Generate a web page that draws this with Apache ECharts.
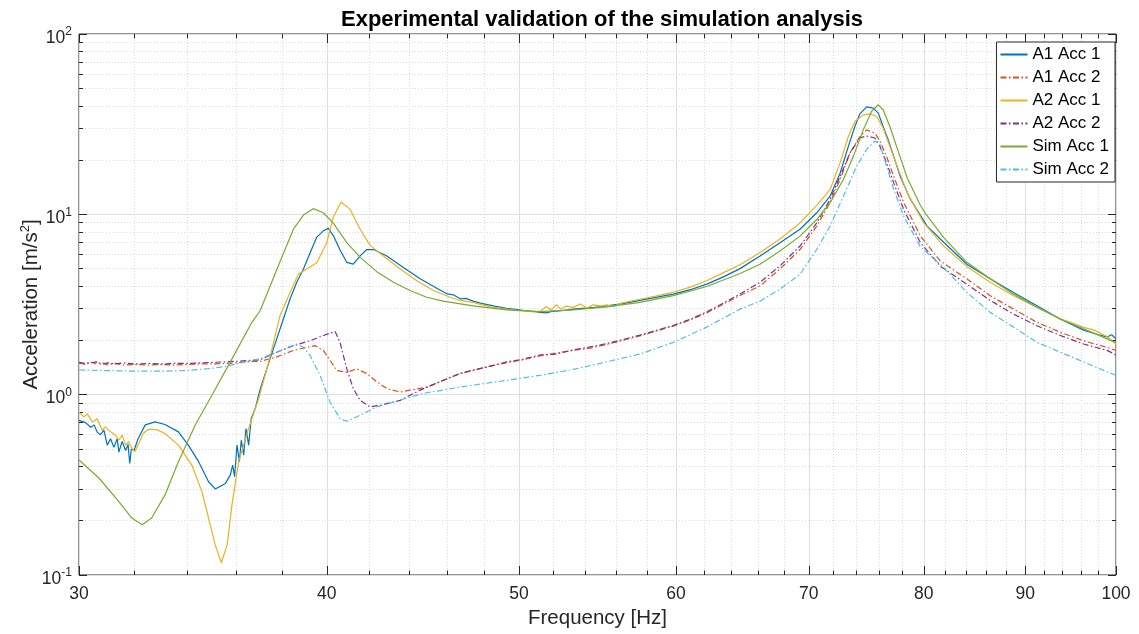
<!DOCTYPE html>
<html><head><meta charset="utf-8">
<script src="https://cdn.jsdelivr.net/npm/echarts@6/dist/echarts.min.js"></script>
<style>html,body{margin:0;padding:0;background:#fff}#c{width:1139px;height:634px}</style>
</head><body><div id="c"></div>
<script>
// ---------- data (frequency [Hz], acceleration [m/s^2]) ----------
const seriesNames = ['A1 Acc 1','A1 Acc 2','A2 Acc 1','A2 Acc 2','Sim Acc 1','Sim Acc 2'];

const a1Acc1 = [[30.00,0.72],[30.23,0.70],[30.41,0.66],[30.53,0.68],[30.64,0.62],[30.76,0.60],[30.88,0.635],[31.00,0.525],[31.12,0.57],[31.24,0.51],[31.36,0.57],[31.42,0.48],[31.54,0.55],[31.67,0.49],[31.76,0.53],[31.82,0.415],[31.88,0.50],[31.98,0.49],[32.13,0.57],[32.40,0.68],[32.77,0.706],[33.15,0.683],[33.67,0.622],[34.06,0.525],[34.47,0.425],[34.87,0.329],[35.14,0.30],[35.56,0.322],[35.76,0.358],[35.86,0.407],[35.94,0.351],[36.04,0.525],[36.14,0.425],[36.22,0.559],[36.32,0.462],[36.42,0.649],[36.53,0.525],[36.64,0.737],[36.81,0.837],[37.03,1.08],[37.45,1.58],[37.89,2.32],[38.33,3.39],[38.63,4.20],[38.93,4.98],[39.23,6.10],[39.54,7.48],[39.84,8.10],[40.07,8.36],[40.31,7.60],[40.62,6.34],[40.94,5.42],[41.25,5.30],[41.58,5.88],[41.90,6.38],[42.23,6.38],[42.89,5.88],[43.72,5.07],[44.58,4.39],[45.45,3.89],[46.0,3.62],[46.33,3.58],[46.7,3.40],[47.0,3.42],[47.41,3.30],[47.8,3.22],[48.2,3.16],[48.6,3.10],[49.28,3.01],[49.8,2.97],[50.3,2.93],[50.8,2.90],[51.23,2.86],[51.6,2.84],[52.0,2.90],[52.5,2.92],[53.25,2.98],[54.0,3.02],[54.6,3.05],[55.36,3.11],[56.4,3.20],[57.54,3.33],[58.6,3.46],[59.81,3.61],[61.0,3.82],[62.18,4.10],[63.4,4.50],[64.63,5.00],[66.15,5.88],[67.70,6.96],[69.29,8.27],[70.65,10.2],[71.75,12.6],[72.59,16.9],[73.29,23.8],[73.85,30.7],[74.28,36.1],[74.86,39.4],[75.44,38.8],[75.88,36.4],[76.31,30.7],[76.76,25.9],[77.26,20.9],[77.86,16.1],[78.77,12.1],[80.31,8.6],[81.87,7.0],[84.10,5.29],[86.41,4.39],[88.78,3.69],[91.23,3.11],[93.73,2.63],[96.30,2.28],[98.0,2.15],[98.96,2.09],[99.5,2.15],[100,2.04]];

const a1Acc2 = [[30.0,1.50],[30.2,1.47],[30.4,1.52],[30.6,1.48],[30.8,1.51],[31.0,1.46],[31.3,1.49],[31.6,1.46],[32.0,1.47],[32.5,1.46],[33.0,1.47],[33.5,1.46],[34.0,1.47],[34.5,1.48],[35.0,1.48],[35.5,1.49],[36.0,1.50],[36.67,1.53],[37.02,1.53],[37.74,1.62],[38.48,1.76],[39.08,1.83],[39.46,1.87],[39.84,1.76],[40.15,1.55],[40.47,1.36],[40.94,1.33],[41.42,1.39],[41.90,1.31],[42.39,1.18],[42.89,1.08],[43.56,1.035],[44.06,1.06],[44.92,1.10],[45.79,1.20],[46.69,1.31],[47.41,1.36],[48.3,1.44],[49.28,1.50],[50.2,1.56],[51.23,1.64],[52.2,1.70],[53.25,1.76],[54.3,1.81],[55.36,1.90],[56.4,2.00],[57.54,2.12],[58.7,2.26],[59.81,2.40],[61.0,2.60],[62.18,2.84],[63.4,3.18],[64.63,3.55],[66.15,4.01],[67.70,4.98],[69.29,6.38],[70.65,8.6],[71.75,11.6],[72.59,15.6],[73.43,21.9],[74.28,27.0],[74.86,29.4],[75.59,28.2],[76.03,25.5],[76.62,20.9],[77.26,16.2],[78.16,11.6],[79.69,7.57],[81.56,5.50],[84.10,4.39],[86.41,3.54],[88.78,2.98],[91.23,2.52],[93.73,2.22],[96.30,1.99],[98.96,1.83],[100,1.76]];

const a2Acc1 = [[30.00,0.80],[30.17,0.753],[30.29,0.782],[30.47,0.706],[30.64,0.735],[30.82,0.635],[30.94,0.663],[31.12,0.622],[31.30,0.596],[31.42,0.559],[31.54,0.596],[31.67,0.525],[31.78,0.548],[31.90,0.503],[32.00,0.482],[32.13,0.525],[32.32,0.609],[32.52,0.643],[32.84,0.64],[33.15,0.609],[33.67,0.525],[34.20,0.407],[34.60,0.29],[34.87,0.207],[35.14,0.147],[35.39,0.117],[35.63,0.147],[35.83,0.245],[36.11,0.425],[36.53,0.65],[36.96,0.95],[37.45,1.62],[37.89,2.75],[38.33,3.69],[38.70,4.66],[39.08,4.98],[39.54,5.39],[40.00,6.96],[40.31,9.7],[40.67,11.7],[41.10,10.65],[41.58,8.27],[42.06,6.73],[42.72,5.88],[43.56,4.98],[44.41,4.28],[45.27,3.78],[46.15,3.47],[46.69,3.33],[47.41,3.25],[48.3,3.08],[49.28,2.98],[50.0,2.93],[50.5,2.90],[51.0,2.88],[51.3,2.92],[51.6,3.08],[51.9,2.95],[52.2,3.15],[52.5,2.98],[52.8,3.10],[53.25,3.05],[53.7,3.18],[54.1,3.02],[54.5,3.15],[55.0,3.10],[55.36,3.15],[55.8,3.08],[56.3,3.22],[57.54,3.38],[58.6,3.52],[59.81,3.70],[61.0,3.95],[62.18,4.28],[63.4,4.75],[64.63,5.25],[66.15,6.14],[67.70,7.3],[69.29,8.96],[70.65,11.2],[71.75,13.7],[72.59,19.3],[73.29,27.0],[73.85,32.7],[74.57,35.6],[75.15,36.1],[75.74,34.9],[76.31,30.1],[76.91,23.8],[77.56,18.5],[78.47,13.2],[80.0,8.96],[81.87,6.67],[84.10,5.13],[86.41,4.20],[88.78,3.54],[91.23,3.05],[93.73,2.63],[95.0,2.50],[96.30,2.36],[97.5,2.28],[98.96,2.10],[100,1.91]];

const a2Acc2 = [[30.0,1.51],[30.2,1.49],[30.4,1.50],[30.6,1.52],[30.8,1.47],[31.0,1.50],[31.3,1.48],[31.6,1.50],[32.0,1.48],[32.5,1.49],[33.0,1.48],[33.5,1.49],[34.0,1.49],[34.5,1.50],[35.0,1.51],[35.5,1.52],[36.0,1.53],[36.67,1.55],[37.02,1.56],[37.74,1.72],[38.48,1.87],[39.23,1.99],[39.84,2.13],[40.39,2.24],[40.62,1.95],[40.94,1.39],[41.25,1.08],[41.58,0.93],[42.06,0.855],[42.56,0.873],[43.56,0.93],[44.58,1.06],[45.62,1.18],[46.69,1.31],[47.41,1.37],[48.3,1.43],[49.28,1.52],[50.2,1.57],[51.23,1.66],[52.2,1.68],[53.25,1.77],[54.3,1.84],[55.36,1.92],[56.4,2.02],[57.54,2.14],[58.7,2.28],[59.81,2.42],[61.0,2.62],[62.18,2.88],[63.4,3.22],[64.63,3.62],[66.15,4.20],[67.70,5.18],[69.29,6.67],[70.65,8.96],[71.75,12.1],[72.59,16.2],[73.43,21.9],[74.28,26.5],[74.86,27.2],[75.59,26.5],[76.03,23.8],[76.62,19.3],[77.26,14.9],[78.16,10.6],[79.69,6.96],[81.56,5.15],[84.10,4.10],[86.41,3.33],[88.78,2.80],[91.23,2.41],[93.73,2.13],[96.30,1.91],[98.96,1.76],[99.6,1.70],[100,1.65]];

const simAcc1 = [[30.00,0.434],[30.71,0.344],[31.42,0.255],[31.90,0.207],[32.28,0.19],[32.64,0.207],[33.15,0.278],[33.67,0.425],[34.33,0.677],[35.00,0.99],[35.83,1.58],[36.67,2.52],[37.02,2.92],[37.89,5.48],[38.48,8.27],[38.93,9.9],[39.38,10.75],[39.84,10.2],[40.31,8.9],[40.94,6.96],[41.58,5.77],[42.39,4.81],[43.22,4.20],[44.06,3.78],[44.92,3.47],[45.79,3.30],[47.41,3.11],[49.28,2.95],[51.23,2.89],[53.25,2.95],[55.36,3.07],[57.54,3.25],[59.81,3.54],[62.18,3.98],[64.63,4.70],[66.15,5.29],[67.70,6.26],[69.29,7.57],[70.65,9.36],[71.75,11.6],[72.87,15.6],[73.71,20.9],[74.57,29.4],[75.30,37.3],[75.88,40.5],[76.31,38.0],[76.91,30.7],[77.56,23.3],[78.47,15.96],[79.69,11.2],[80.11,10.2],[81.87,7.42],[84.10,5.42],[86.41,4.39],[88.78,3.61],[91.23,3.05],[93.73,2.63],[96.30,2.32],[98.96,2.04],[100,1.94]];

const simAcc2 = [[30.0,1.37],[31.0,1.36],[32.0,1.35],[32.5,1.35],[33.0,1.35],[34.0,1.36],[35.0,1.40],[35.5,1.43],[36.0,1.48],[36.67,1.55],[37.02,1.58],[37.74,1.72],[38.3,1.84],[38.63,1.91],[38.93,1.83],[39.23,1.65],[39.69,1.28],[40.15,0.91],[40.62,0.737],[40.94,0.712],[41.58,0.77],[42.39,0.855],[43.22,0.91],[44.06,0.97],[44.92,1.025],[46.69,1.10],[47.41,1.13],[49.28,1.20],[51.23,1.28],[53.25,1.38],[55.36,1.52],[57.54,1.68],[59.81,1.95],[62.18,2.37],[64.63,2.98],[66.15,3.3],[67.70,3.85],[69.29,4.65],[70.65,6.38],[71.75,8.6],[72.87,12.6],[74.0,18.5],[74.86,22.9],[75.59,25.5],[76.03,24.4],[76.62,18.5],[77.26,13.7],[78.16,9.75],[79.69,6.6],[81.87,5.07],[84.10,3.69],[86.41,2.86],[88.78,2.37],[91.23,1.95],[93.73,1.72],[96.30,1.52],[98.96,1.34],[100,1.28]];

const seriesData = [a1Acc1, a1Acc2, a2Acc1, a2Acc2, simAcc1, simAcc2];
const seriesColors = ['#0072BD','#D95319','#EDB120','#7E2F8E','#77AC30','#4DBEEE'];
const seriesDashed = [false, true, false, true, false, true];

// ---------- ticks ----------
const xMajorTicks = [30,40,50,60,70,80,90,100];
const xMinorTicks = [32,34,36,38,42,44,46,48,52,54,56,58,62,64,66,68,72,74,76,78,82,84,86,88,92,94,96,98];
const yMajorTicks = [0.1,1,10,100];
const yMinorTicks = [0.2,0.3,0.4,0.5,0.6,0.7,0.8,0.9,2,3,4,5,6,7,8,9,20,30,40,50,60,70,80,90];
const xMin = 30, xMax = 100, yMin = 0.1, yMax = 100;

const FONT = '"Liberation Sans", Arial, Helvetica, sans-serif';
const INK = '#262626';
const L = Math.log10;
const lxMin = L(xMin), lxMax = L(xMax), lyMin = L(yMin), lyMax = L(yMax);
const xMajL = xMajorTicks.map(L), xMinL = xMinorTicks.map(L);
const yMajL = yMajorTicks.map(L), yMinL = yMinorTicks.map(L);

const majorGrid = {show: true, lineStyle: {color: '#dfdfdf', width: 1}};
const minorGrid = {show: true, lineStyle: {color: '#dadada', width: 1, type: [1, 2]}};
const tickStyle = {color: INK, width: 1};

function helperX(pos, vals, len, grid, label) {
  return {
    type: 'value', min: lxMin, max: lxMax, position: pos,
    axisLine: {show: false, onZero: false},
    axisTick: {show: true, inside: true, length: len, customValues: vals, lineStyle: tickStyle},
    axisLabel: label || {show: false},
    splitLine: grid || {show: false}
  };
}
function helperY(pos, vals, len, grid, label) {
  return {
    type: 'value', min: lyMin, max: lyMax, position: pos,
    axisLine: {show: false, onZero: false},
    axisTick: {show: true, inside: true, length: len, customValues: vals, lineStyle: tickStyle},
    axisLabel: label || {show: false},
    splitLine: grid || {show: false}
  };
}

const xAxes = [
  {type: 'log', logBase: 10, min: xMin, max: xMax, show: false, axisLine: {onZero: false}},
  Object.assign(helperX('bottom', xMajL, 9, majorGrid, {
    show: true, customValues: xMajL, margin: 10,
    formatter: v => String(Math.round(Math.pow(10, v))),
    fontSize: 17.5, color: INK, fontFamily: FONT
  }), {
    name: 'Frequency [Hz]', nameLocation: 'middle', nameGap: 33, nameMoveOverlap: false,
    nameTextStyle: {fontSize: 20.5, color: INK, fontFamily: FONT}
  }),
  helperX('bottom', xMinL, 4.5, minorGrid),
  helperX('top', xMajL, 9),
  helperX('top', xMinL, 4.5)
];
const yAxes = [
  {type: 'log', logBase: 10, min: yMin, max: yMax, show: false, axisLine: {onZero: false}},
  Object.assign(helperY('left', yMajL, 8, majorGrid, {
    show: true, customValues: yMajL, margin: 7,
    formatter: v => '{b|10}{s|' + Math.round(v) + '}',
    color: INK, fontFamily: FONT,
    rich: {
      b: {fontSize: 17.5, color: INK, fontFamily: FONT, padding: [8, 0, 0, 0]},
      s: {fontSize: 12, color: INK, fontFamily: FONT, padding: [0, 0, 4, 0]}
    }
  }), {
    name: '{a|Acceleration [m/s}{s|2}{a|]}', nameLocation: 'middle', nameGap: 37, nameMoveOverlap: false,
    nameTextStyle: {
      color: INK, fontFamily: FONT, fontSize: 20.5,
      rich: {
        a: {fontSize: 20.5, color: INK, fontFamily: FONT, padding: [7, 0, 0, 0]},
        s: {fontSize: 13, color: INK, fontFamily: FONT, padding: [0, 0, 5, 0]}
      }
    }
  }),
  helperY('left', yMinL, 4, minorGrid),
  helperY('right', yMajL, 8),
  helperY('right', yMinL, 4)
];

const series = seriesNames.map((name, i) => ({
  name: name, type: 'line', xAxisIndex: 0, yAxisIndex: 0,
  data: seriesData[i], symbol: 'none', showSymbol: false, smooth: false,
  animation: false,
  lineStyle: {color: seriesColors[i], width: 1.2, type: seriesDashed[i] ? [6, 2.5, 1.5, 2.5] : 'solid'},
  itemStyle: {color: seriesColors[i]},
  emphasis: {disabled: true}
}));

const chart = echarts.init(document.getElementById('c'), null, {renderer: 'canvas'});
chart.setOption({
  animation: false,
  backgroundColor: '#ffffff',
  title: {
    text: 'Experimental validation of the simulation analysis',
    left: 597, top: 4, textAlign: 'center',
    textStyle: {fontSize: 22, fontWeight: 'bold', color: '#000', fontFamily: FONT}
  },
  grid: {left: 79, right: 23, top: 34, bottom: 57, show: true, borderColor: INK, borderWidth: 1, backgroundColor: 'transparent', containLabel: false},
  legend: {
    data: seriesNames, orient: 'vertical', right: 24, top: 42,
    backgroundColor: '#ffffff', borderColor: INK, borderWidth: 1, borderRadius: 0,
    padding: [4, 6, 4, 3], itemWidth: 27, itemHeight: 16, itemGap: 6,
    itemStyle: {opacity: 0},
    textStyle: {fontSize: 17, color: '#000', fontFamily: FONT},
    selectedMode: false
  },
  xAxis: xAxes,
  yAxis: yAxes,
  series: series
});
</script></body></html>
